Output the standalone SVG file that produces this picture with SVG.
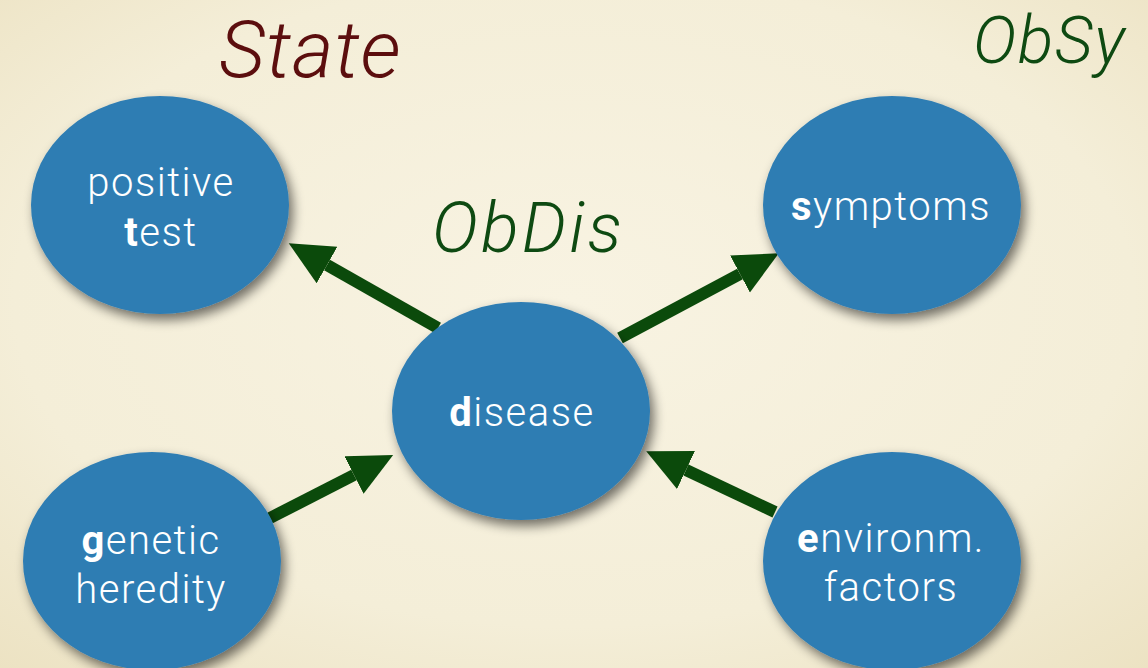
<svg xmlns="http://www.w3.org/2000/svg" width="1148" height="668" viewBox="0 0 1148 668">
  <defs>
    <radialGradient id="paper" cx="50%" cy="45%" r="75%">
      <stop offset="0" stop-color="#f8f3e2"/>
      <stop offset="0.65" stop-color="#f4eed8"/>
      <stop offset="1" stop-color="#ece2c2"/>
    </radialGradient>
    <filter id="shadow" x="-20%" y="-20%" width="140%" height="150%">
      <feGaussianBlur in="SourceAlpha" stdDeviation="6"/>
      <feOffset dx="4" dy="6" result="b"/>
      <feComponentTransfer><feFuncA type="linear" slope="0.55"/></feComponentTransfer>
      <feMerge><feMergeNode/><feMergeNode in="SourceGraphic"/></feMerge>
    </filter>
    <marker id="head" markerUnits="userSpaceOnUse" markerWidth="48" markerHeight="44" refX="0" refY="21" orient="auto">
      <path d="M0,0 L44,21 L0,42 Z" fill="#0b4a0b"/>
    </marker>
    <style>
      .node { fill: #2f7db3; filter: url(#shadow); }
      .lbl { font-family: Roboto, "Liberation Sans", Arial, sans-serif; font-weight: 300; font-size: 40px; letter-spacing: 1.5px; fill: #ffffff; text-anchor: middle; }
      .lbl tspan.b { font-weight: 700; }
      .title { font-family: Roboto, "Liberation Sans", Arial, sans-serif; font-weight: 300; font-style: italic; }
      .edge { stroke: #0b4a0b; stroke-width: 12; fill: none; marker-end: url(#head); }
    </style>
  </defs>

  <rect width="1148" height="668" fill="url(#paper)"/>

  <!-- headings -->
  <text class="title" x="219" y="77" font-size="80" letter-spacing="1" fill="#5c0e0e">State</text>
  <text class="title" x="432" y="252" font-size="70" letter-spacing="3" fill="#0e4a12">ObDis</text>
  <text class="title" x="973" y="63" font-size="66" letter-spacing="1.5" fill="#0e4a12">ObSy</text>

  <!-- connectors -->
  <g id="edges">
    <line class="edge" x1="438" y1="328" x2="327" y2="265"/>
    <line class="edge" x1="620" y1="338" x2="740" y2="274"/>
    <line class="edge" x1="270" y1="518" x2="354" y2="475"/>
    <line class="edge" x1="775" y1="512" x2="686" y2="470"/>
  </g>

  <g id="test">
    <ellipse class="node" cx="160" cy="205" rx="129" ry="109"/>
    <text class="lbl" x="161" y="196">positive</text>
    <text class="lbl" x="161" y="246"><tspan class="b">t</tspan>est</text>
  </g>

  <g id="symptoms">
    <ellipse class="node" cx="892" cy="205" rx="129" ry="109"/>
    <text class="lbl" x="891" y="220"><tspan class="b">s</tspan>ymptoms</text>
  </g>

  <g id="disease">
    <ellipse class="node" cx="521" cy="411" rx="129" ry="109"/>
    <text class="lbl" x="522" y="426"><tspan class="b">d</tspan>isease</text>
  </g>

  <g id="genetic">
    <ellipse class="node" cx="152" cy="561" rx="129" ry="109"/>
    <text class="lbl" x="151" y="554"><tspan class="b">g</tspan>enetic</text>
    <text class="lbl" x="151" y="603">heredity</text>
  </g>

  <g id="environment">
    <ellipse class="node" cx="892" cy="561" rx="129" ry="109"/>
    <text class="lbl" x="891" y="552"><tspan class="b">e</tspan>nvironm.</text>
    <text class="lbl" x="891" y="601">factors</text>
  </g>
</svg>
